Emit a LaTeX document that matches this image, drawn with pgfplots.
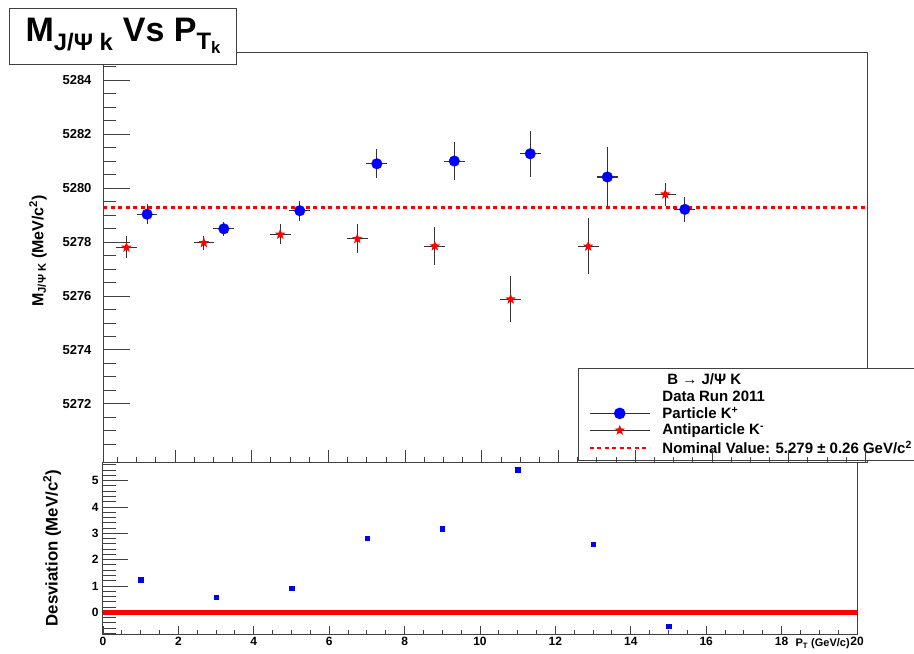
\documentclass[border=0pt]{standalone}
\usepackage{fontspec}
\setmainfont{Liberation Sans}
\usepackage{pgfplots}
\pgfplotsset{compat=1.18}
\usepackage{pgfplotstable}

\pgfdeclareplotmark{fstar}{%
  \pgfpathmoveto{\pgfpointpolar{90}{\pgfplotmarksize}}%
  \pgfpathlineto{\pgfpointpolar{126}{0.42\pgfplotmarksize}}%
  \pgfpathlineto{\pgfpointpolar{162}{\pgfplotmarksize}}%
  \pgfpathlineto{\pgfpointpolar{198}{0.42\pgfplotmarksize}}%
  \pgfpathlineto{\pgfpointpolar{234}{\pgfplotmarksize}}%
  \pgfpathlineto{\pgfpointpolar{270}{0.42\pgfplotmarksize}}%
  \pgfpathlineto{\pgfpointpolar{306}{\pgfplotmarksize}}%
  \pgfpathlineto{\pgfpointpolar{342}{0.42\pgfplotmarksize}}%
  \pgfpathlineto{\pgfpointpolar{18}{\pgfplotmarksize}}%
  \pgfpathlineto{\pgfpointpolar{54}{0.42\pgfplotmarksize}}%
  \pgfpathclose\pgfusepathqfill}

\pgfplotstableread{
x y ex ey
1.27 5279.03 0.27 0.37
3.27 5278.49 0.27 0.26
5.25 5279.16 0.27 0.37
7.26 5280.90 0.27 0.54
9.28 5281.00 0.27 0.69
11.26 5281.27 0.27 0.85
13.27 5280.41 0.27 1.11
15.29 5279.21 0.27 0.46
}\particle

\pgfplotstableread{
x y ex ey
0.73 5277.80 0.27 0.41
2.75 5277.97 0.27 0.26
4.74 5278.28 0.27 0.37
6.75 5278.12 0.27 0.53
8.77 5277.85 0.27 0.69
10.75 5275.88 0.27 0.85
12.77 5277.84 0.27 1.04
14.78 5279.77 0.27 0.43
}\antiparticle

\pgfplotstableread{
x y
1 1.245
3 0.57
5 0.93
7 2.81
9 3.18
11 5.42
13 2.60
15 -0.53
}\deviation

\definecolor{framegray}{gray}{0.25}

\begin{document}
\begin{tikzpicture}
\path[use as bounding box] (0pt,0pt) rectangle (914pt,-654pt);

% ---------------- upper pad ----------------
\begin{axis}[
  at={(103pt,-462pt)}, anchor=south west,
  scale only axis, width=764pt, height=410pt,
  xmin=0.12, xmax=20.04, ymin=5269.85, ymax=5285.04,
  xtick=\empty,
  ytick={5272,5274,...,5284},
  minor ytick={5270.5,5271,...,5284.5},
  tick pos=left,
  major tick length=27pt, minor tick length=13pt,
  scaled y ticks=false,
  yticklabel style={/pgf/number format/1000 sep={}, /pgf/number format/assume math mode=true,
     font=\fontsize{13}{13}\selectfont\bfseries, xshift=-8pt},
  axis line style={framegray, line width=1pt},
  every tick/.style={framegray, line width=1pt},
  ylabel={M\textsubscript{J/Ψ K} (MeV/c\textsuperscript{2})},
  ylabel style={at={(axis description cs:-0.0851,0.515)}, anchor=center, font=\fontsize{16}{16}\selectfont\bfseries},
  title={M\textsubscript{J/Ψ k} Vs P\textsubscript{T\textsubscript{k}}},
  title style={at={(axis description cs:0.0268,1.039)}, anchor=center, yshift=-6pt, draw=framegray, line width=1pt,
     fill=white, minimum width=227pt, minimum height=56pt, inner sep=0pt,
     font=\fontsize{34}{34}\selectfont\bfseries},
  legend image code/.code={\draw[mark repeat=2, mark phase=2, #1] plot coordinates {(0pt,0pt) (30pt,0pt) (60pt,0pt)};},
  legend cell align=left,
  legend style={at={(axis description cs:0.6217,0.2293)}, anchor=north west,
     draw=framegray, line width=1pt, fill=white, inner xsep=10pt, inner ysep=4pt,
     row sep=1.3pt, column sep=10pt, nodes={inner sep=1.5pt},
     font=\fontsize{15}{15}\selectfont\bfseries},
]
\addplot[red, line width=2.5pt, dash pattern=on 4pt off 3.5pt, forget plot]
  coordinates {(0.12,5279.28) (20.04,5279.28)};
\addplot[only marks, mark=none, forget plot,
  error bars/.cd, x dir=both, x explicit, y dir=both, y explicit, error mark=none,
  error bar style={black!80, line width=1.1pt}]
  table[x=x, y=y, x error=ex, y error=ey] {\particle};
\addplot[only marks, mark=none, forget plot,
  error bars/.cd, x dir=both, x explicit, y dir=both, y explicit, error mark=none,
  error bar style={black!80, line width=1.1pt}]
  table[x=x, y=y, x error=ex, y error=ey] {\antiparticle};
\addplot[only marks, mark=*, mark size=5.3pt, blue, forget plot] table[x=x, y=y] {\particle};
\addplot[only marks, mark=fstar, mark size=5.5pt, red, forget plot] table[x=x, y=y] {\antiparticle};

\addlegendimage{empty legend}
\addlegendentry{\hspace{5pt}B → J/Ψ K}
\addlegendimage{empty legend}
\addlegendentry{Data Run 2011}
\addlegendimage{black!80, line width=1pt, mark=*, mark size=5.3pt, mark options={blue, fill=blue}}
\addlegendentry{Particle K\textsuperscript{+}}
\addlegendimage{black!80, line width=1pt, mark=fstar, mark size=5.5pt, mark options={red, fill=red}}
\addlegendentry{Antiparticle K\textsuperscript{-}}
\addlegendimage{red, line width=2.5pt, dash pattern=on 4pt off 3.5pt}
\addlegendentry{\makebox[300pt][l]{Nominal Value: 5.279 ± 0.26 GeV/c\textsuperscript{2}}}
\end{axis}

% upper pad: x ticks (shorter)
\begin{axis}[
  at={(103pt,-462pt)}, anchor=south west,
  scale only axis, width=764pt, height=410pt,
  xmin=0.12, xmax=20.04, ymin=5269.85, ymax=5285.04,
  axis line style={draw=none},
  ytick=\empty,
  xtick={2,4,...,20}, minor xtick={0.5,1,...,19.5},
  xticklabels={},
  tick pos=left,
  major tick length=12pt, minor tick length=5pt,
  every tick/.style={framegray, line width=1pt},
]
\end{axis}

% ---------------- lower pad ----------------
\begin{axis}[
  at={(103pt,-634pt)}, anchor=south west,
  scale only axis, width=754pt, height=172pt,
  xmin=0, xmax=20, ymin=-0.82, ymax=5.71,
  axis background/.style={fill=white},
  xtick=\empty,
  ytick={0,1,2,3,4,5},
  minor ytick={-0.8,-0.6,...,5.6},
  tick pos=left,
  major tick length=25pt, minor tick length=13pt,
  yticklabel style={/pgf/number format/assume math mode=true,
     font=\fontsize{12}{12}\selectfont\bfseries, xshift=-1pt},
  axis line style={framegray, line width=1pt},
  every tick/.style={framegray, line width=1pt},
  ylabel={Desviation (MeV/c\textsuperscript{2})},
  ylabel style={at={(axis description cs:-0.0676,0.5)}, anchor=center, font=\fontsize{16.8}{17}\selectfont\bfseries},
]
\addplot[red, line width=4.5pt, forget plot] coordinates {(0,0) (20,0)};
\addplot[only marks, mark=square*, mark size=2.2pt, blue, forget plot] table[x=x, y=y] {\deviation};
\end{axis}

% lower pad: x ticks and labels
\begin{axis}[
  at={(103pt,-634pt)}, anchor=south west,
  scale only axis, width=754pt, height=172pt,
  xmin=0, xmax=20, ymin=-0.82, ymax=5.71,
  axis line style={draw=none},
  ytick=\empty,
  xtick={0,2,...,20}, minor xtick={0.5,1,...,19.5},
  tick pos=left,
  major tick length=8pt, minor tick length=4pt,
  every tick/.style={framegray, line width=1pt},
  xticklabel style={/pgf/number format/assume math mode=true,
     font=\fontsize{12}{12}\selectfont\bfseries},
  xlabel={P\textsubscript{T} (GeV/c)},
  xlabel style={at={(axis description cs:0.995,0)}, anchor=north east, yshift=-1pt,
     font=\fontsize{11}{11}\selectfont\bfseries},
]
\end{axis}
\end{tikzpicture}
\end{document}
